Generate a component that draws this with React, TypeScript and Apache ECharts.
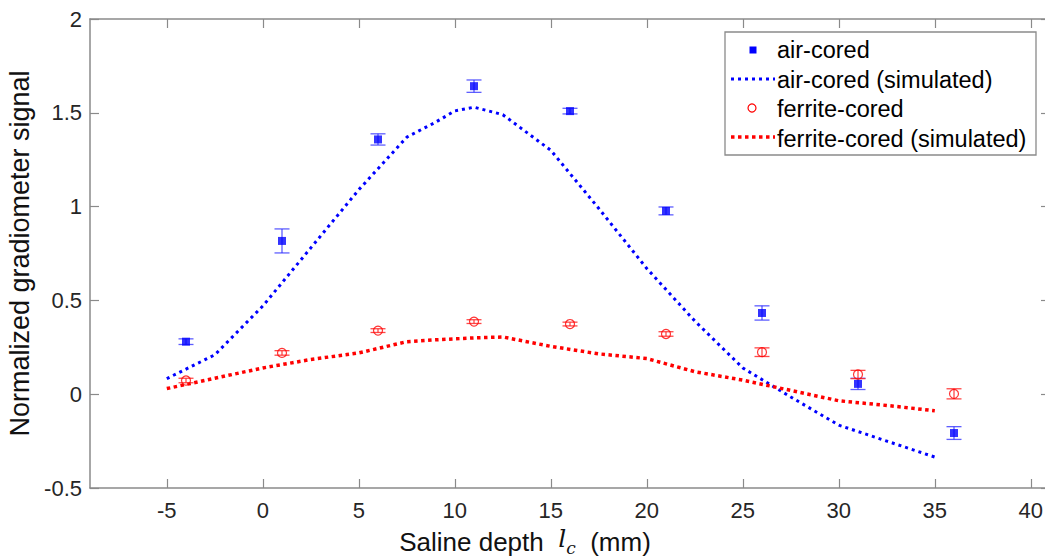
import React, { useEffect, useRef } from "react";
import * as echarts from "echarts";

const xExp = [-4, 1, 6, 11, 16, 21, 26, 31, 36];
const airMeas = [0.28, 0.817, 1.358, 1.642, 1.509, 0.977, 0.433, 0.055, -0.207];
const airErr = [0.015, 0.064, 0.03, 0.033, 0.015, 0.021, 0.038, 0.03, 0.034];
const ferMeas = [0.073, 0.22, 0.339, 0.387, 0.374, 0.321, 0.224, 0.105, 0.002];
const ferErr = [0.012, 0.012, 0.01, 0.01, 0.01, 0.012, 0.023, 0.022, 0.027];

const xSim = [-5, -2.5, 0, 2.5, 5, 7.5, 9, 10, 11, 12.5, 15, 17.5, 20, 22.5, 25, 27.5, 30, 32.5, 35];
const airSim = [0.083, 0.21, 0.47, 0.78, 1.09, 1.37, 1.45, 1.51, 1.53, 1.49, 1.3, 0.99, 0.67, 0.39, 0.14, -0.015, -0.165, -0.25, -0.335];
const ferSim = [0.03, 0.085, 0.14, 0.185, 0.22, 0.28, 0.29, 0.295, 0.3, 0.305, 0.255, 0.215, 0.19, 0.12, 0.075, 0.02, -0.035, -0.06, -0.088];

const xTicks = [-5, 0, 5, 10, 15, 20, 25, 30, 35, 40];
const legendLabels = ["air-cored", "air-cored (simulated)", "ferrite-cored", "ferrite-cored (simulated)"];

const BLUE = "#0000ff";
const RED = "#ff0000";
const AXIS = "#8a8a8a";
const TXT = "#262626";
const FONT = "'Liberation Sans', Arial, sans-serif";

function errBar(color: string) {
  return (params: any, api: any) => {
    const x = api.value(0);
    const lo = api.coord([x, api.value(1)]);
    const hi = api.coord([x, api.value(2)]);
    const hw = 7.5;
    const st = { stroke: color, lineWidth: 1.3 };
    return {
      type: "group",
      children: [
        { type: "line", shape: { x1: lo[0], y1: lo[1], x2: hi[0], y2: hi[1] }, style: st },
        { type: "line", shape: { x1: lo[0] - hw, y1: lo[1], x2: lo[0] + hw, y2: lo[1] }, style: st },
        { type: "line", shape: { x1: hi[0] - hw, y1: hi[1], x2: hi[0] + hw, y2: hi[1] }, style: st },
      ],
    };
  };
}

export default function App() {
  const ref = useRef<HTMLDivElement>(null);
  useEffect(() => {
    if (!ref.current) return;
    const chart = echarts.init(ref.current, undefined, { renderer: "svg" });
    const airPts = xExp.map((x, i) => [x, airMeas[i]]);
    const ferPts = xExp.map((x, i) => [x, ferMeas[i]]);
    const airEb = xExp.map((x, i) => [x, airMeas[i] - airErr[i], airMeas[i] + airErr[i]]);
    const ferEb = xExp.map((x, i) => [x, ferMeas[i] - ferErr[i], ferMeas[i] + ferErr[i]]);
    const airSimPts = xSim.map((x, i) => [x, airSim[i]]);
    const ferSimPts = xSim.map((x, i) => [x, ferSim[i]]);

    const lx = 725, ly = 32, lw = 311, lh = 123;
    const rows = [50, 80, 109, 139];
    const tx = 777;

    const axisLineCfg = { show: true, onZero: false, lineStyle: { color: AXIS, width: 1.5 } };
    const tickCfg = { show: true, inside: true, length: 9, lineStyle: { color: AXIS, width: 1.2 } };

    chart.setOption({
      animation: false,
      backgroundColor: "#ffffff",
      grid: { left: 90, top: 19, right: -5, bottom: 72, containLabel: false, outerBoundsMode: "none" },
      xAxis: [
        {
          type: "value",
          min: -9,
          max: 41,
          position: "bottom",
          axisLine: axisLineCfg,
          axisTick: { ...tickCfg, customValues: xTicks },
          axisLabel: { customValues: xTicks, color: TXT, fontSize: 22, fontFamily: FONT, margin: 11 },
          splitLine: { show: false },
          name: "Saline depth  {i|l}{s|c}  (mm)",
          nameLocation: "middle",
          nameGap: 36,
          nameTextStyle: {
            color: "#111",
            fontSize: 26,
            fontFamily: FONT,
            padding: [0, 90, 0, 0],
            rich: {
              i: { fontSize: 25, fontStyle: "italic", fontFamily: "'DejaVu Serif', serif", color: "#111", padding: [0, 0, 8, 0] },
              s: { fontSize: 17, fontStyle: "italic", fontFamily: "'DejaVu Serif', serif", color: "#111", padding: [12, 0, 0, 0] },
            },
          },
        },
        {
          type: "value",
          min: -9,
          max: 41,
          position: "top",
          axisLine: axisLineCfg,
          axisTick: { ...tickCfg, customValues: xTicks },
          axisLabel: { show: false },
          splitLine: { show: false },
        },
      ],
      yAxis: [
        {
          type: "value",
          min: -0.5,
          max: 2,
          interval: 0.5,
          position: "left",
          axisLine: axisLineCfg,
          axisTick: tickCfg,
          axisLabel: { color: TXT, fontSize: 22, fontFamily: FONT, margin: 8 },
          splitLine: { show: false },
          name: "Normalized gradiometer signal",
          nameLocation: "middle",
          nameGap: 54,
          nameTextStyle: { color: "#111", fontSize: 27, fontFamily: FONT },
        },
        {
          type: "value",
          min: -0.5,
          max: 2,
          interval: 0.5,
          position: "right",
          axisLine: axisLineCfg,
          axisTick: tickCfg,
          axisLabel: { show: false },
          splitLine: { show: false },
        },
      ],
      series: [
        {
          name: "air-cored (simulated)",
          type: "line",
          data: airSimPts,
          showSymbol: false,
          symbol: "none",
          lineStyle: { color: BLUE, width: 3, type: [3, 4], cap: "butt" },
          z: 2,
        },
        {
          name: "ferrite-cored (simulated)",
          type: "line",
          data: ferSimPts,
          showSymbol: false,
          symbol: "none",
          lineStyle: { color: RED, width: 3.5, type: [3.5, 3.5], cap: "butt" },
          z: 2,
        },
        {
          name: "air-cored err",
          type: "custom",
          data: airEb,
          encode: { x: 0, y: [1, 2] },
          renderItem: errBar("rgba(40,40,255,0.75)"),
          z: 3,
        },
        {
          name: "ferrite-cored err",
          type: "custom",
          data: ferEb,
          encode: { x: 0, y: [1, 2] },
          renderItem: errBar("rgba(255,40,40,0.85)"),
          z: 3,
        },
        {
          name: "air-cored",
          type: "scatter",
          data: airPts,
          symbol: "rect",
          symbolSize: 8,
          itemStyle: { color: BLUE },
          z: 4,
        },
        {
          name: "ferrite-cored",
          type: "scatter",
          data: ferPts,
          symbol: "circle",
          symbolSize: 9,
          itemStyle: { color: "rgba(255,255,255,0)", borderColor: RED, borderWidth: 1.2 },
          z: 4,
        },
      ],
      graphic: [
        {
          type: "rect",
          shape: { x: lx, y: ly, width: lw, height: lh },
          style: { fill: "#ffffff", stroke: AXIS, lineWidth: 1.3 },
          z: 10,
        },
        { type: "rect", shape: { x: 749.5, y: rows[0] - 3.5, width: 7, height: 7 }, style: { fill: BLUE }, z: 11 },
        { type: "line", shape: { x1: 731, y1: rows[1] - 1, x2: 775, y2: rows[1] - 1 }, style: { stroke: BLUE, lineWidth: 3, lineDash: [3, 4] }, z: 11 },
        { type: "circle", shape: { cx: 752, cy: rows[2] - 1, r: 4 }, style: { fill: "none", stroke: RED, lineWidth: 1.2 }, z: 11 },
        { type: "line", shape: { x1: 731, y1: rows[3] - 2, x2: 775, y2: rows[3] - 2 }, style: { stroke: RED, lineWidth: 3.5, lineDash: [3.5, 3.5] }, z: 11 },
        ...legendLabels.map((t, i) => ({
          type: "text",
          x: tx,
          y: rows[i],
          style: { text: t, fill: "#000", fontSize: 23.5, fontFamily: FONT, textVerticalAlign: "middle", verticalAlign: "middle" },
          z: 11,
        })),
      ],
    });
    return () => chart.dispose();
  }, []);
  return (
    <div
      ref={ref}
      style={{ position: "fixed", left: 0, top: 0, width: 1045, height: 560, background: "#fff" }}
    />
  );
}
